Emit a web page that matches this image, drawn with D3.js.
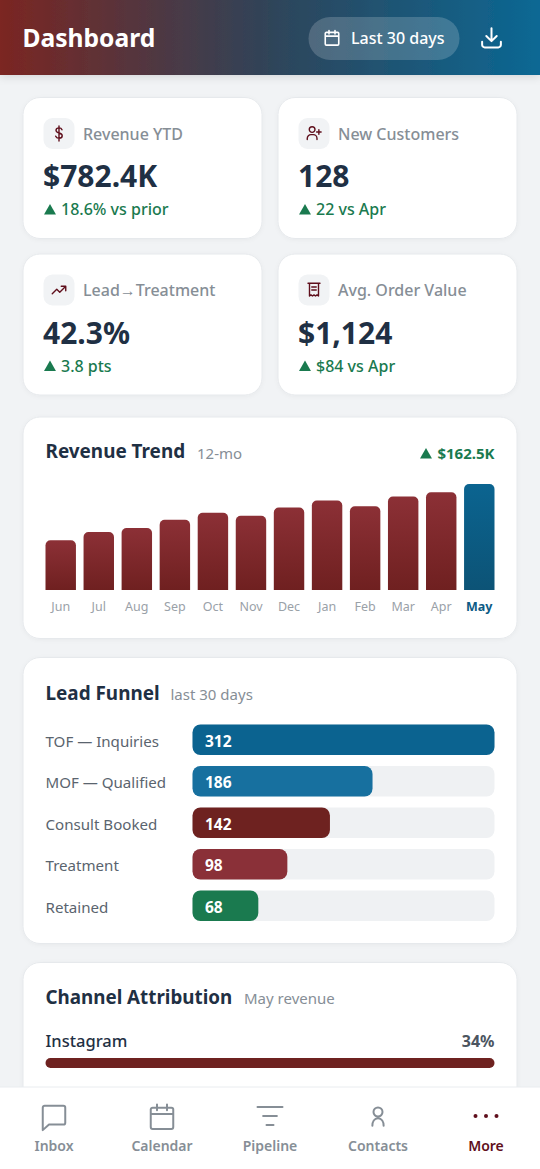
<!DOCTYPE html>
<html>
<head>
<meta charset="utf-8">
<script src="https://cdn.jsdelivr.net/npm/d3@7"></script>
<style>
  html, body { margin: 0; padding: 0; background: #f1f3f5; overflow: hidden; }
  svg { display: block; font-family: "Noto Sans", "Liberation Sans", sans-serif; }
  .domain { display: none; }
</style>
</head>
<body>
<div id="chart"></div>
<script>
// kpi cards
const kpiLabels = ["Revenue YTD", "New Customers", "Lead→Treatment", "Avg. Order Value"];
const kpiValues = ["$782.4K", "128", "42.3%", "$1,124"];
const kpiDeltas = ["18.6% vs prior", "22 vs Apr", "3.8 pts", "$84 vs Apr"];
const kpiIcons = [
  "M12 2v20M16 7c-.6-1.6-2-2.5-4-2.5-2.5 0-4 1.3-4 3.2 0 2 1.8 2.9 4 3.6 2.3.6 4.3 1.5 4.3 3.7 0 2-1.8 3.3-4.3 3.3-2.2 0-3.8-1-4.4-2.7",
  "M3 20v-1.5A5 5 0 0 1 8 13.5h3a5 5 0 0 1 5 5V20M9.5 10.5a3.8 3.8 0 1 0 0-7.6 3.8 3.8 0 0 0 0 7.6zM18.5 7v6M15.5 10h6",
  "M3 17l6-6 4 4 8-8M15 7h6v6",
  "M6 3h12v17l-2-1.5-2 1.5-2-1.5-2 1.5-2-1.5-2 1.5zM4 3h16M9 8h6M9 12h6"
];

// revenue trend
const months = ["Jun", "Jul", "Aug", "Sep", "Oct", "Nov", "Dec", "Jan", "Feb", "Mar", "Apr", "May"];
const revenue = [76.2, 88.9, 95, 107.7, 118.4, 113.8, 126.5, 137.2, 128.5, 143.2, 149.9, 162.5];

// lead funnel
const funnelStages = ["TOF — Inquiries", "MOF — Qualified", "Consult Booked", "Treatment", "Retained"];
const funnelCounts = [312, 186, 142, 98, 68];
const funnelColors = ["#0b6390", "#17709f", "#6e2220", "#8a3038", "#1a7a4f"];

// channel attribution
const channels = ["Instagram"];
const channelShares = [34];

// bottom nav
const navLabels = ["Inbox", "Calendar", "Pipeline", "Contacts", "More"];
const navIcons = [
  "M4.5 3h15A1.5 1.5 0 0 1 21 4.5v12a1.5 1.5 0 0 1-1.5 1.5H8l-5 4.5V4.5A1.5 1.5 0 0 1 4.5 3z",
  "M4.5 4.5h15A1.5 1.5 0 0 1 21 6v14a1.5 1.5 0 0 1-1.5 1.5h-15A1.5 1.5 0 0 1 3 20V6a1.5 1.5 0 0 1 1.5-1.5zM3 9.5h18M8 2v4.5M16 2v4.5",
  "M2 4h20M6.5 11.2h11M9.2 18.4h5.6",
  "M12 11.6a3.6 3.6 0 1 0 0-7.2 3.6 3.6 0 0 0 0 7.2zM7.5 19c0-3 1.5-6 4.5-6s4.5 3 4.5 6",
  ""
];

const width = 540, height = 1169;
const ink = "#1f3044", grey = "#868e96", green = "#1a7a4f", maroon = "#5f0f1c";

const svg = d3.select("#chart").append("svg")
  .attr("width", width).attr("height", height)
  .attr("viewBox", `0 0 ${width} ${height}`);

const defs = svg.append("defs");

function gradient(id, x2, y2, stops) {
  const g = defs.append("linearGradient").attr("id", id)
    .attr("x1", 0).attr("y1", 0).attr("x2", x2).attr("y2", y2);
  stops.forEach((s, i) => g.append("stop").attr("offset", i / (stops.length - 1)).attr("stop-color", s));
}
gradient("headerFill", 1, 0, ["#7b2622", "#2f4459", "#0b6894"]);
gradient("barFill", 0, 1, ["#8c3036", "#6f2020"]);
gradient("barFillLast", 0, 1, ["#0b6490", "#0c5376"]);

const shadow = defs.append("filter").attr("id", "soft")
  .attr("x", "-10%").attr("y", "-10%").attr("width", "120%").attr("height", "130%");
shadow.append("feDropShadow").attr("dx", 0).attr("dy", 1).attr("stdDeviation", 2)
  .attr("flood-color", "#000").attr("flood-opacity", 0.04);
const headShadow = defs.append("filter").attr("id", "headShadow")
  .attr("x", "-5%").attr("y", "-10%").attr("width", "110%").attr("height", "150%");
headShadow.append("feDropShadow").attr("dx", 0).attr("dy", 2).attr("stdDeviation", 4)
  .attr("flood-color", "#000").attr("flood-opacity", 0.12);

function label(parent, x, y, str, size, fill, weight, anchor) {
  return parent.append("text")
    .attr("x", x).attr("y", y)
    .attr("font-size", size).attr("fill", fill)
    .attr("font-weight", weight || 400)
    .attr("text-anchor", anchor || "start")
    .text(str);
}

function card(x, y, w, h) {
  svg.append("rect")
    .attr("x", x).attr("y", y).attr("width", w).attr("height", h)
    .attr("rx", 17).attr("fill", "#fff").attr("stroke", "#e6e9ec")
    .attr("filter", "url(#soft)");
}

function icon(parent, d, x, y, size, stroke, sw) {
  parent.append("path")
    .attr("d", d)
    .attr("transform", `translate(${x},${y}) scale(${size / 24})`)
    .attr("fill", "none").attr("stroke", stroke)
    .attr("stroke-width", sw * 24 / size)
    .attr("stroke-linecap", "round").attr("stroke-linejoin", "round");
}

const upTriangle = d3.symbol().type(d3.symbolTriangle).size(62);

function upMark(x, y) {
  svg.append("path").attr("d", upTriangle())
    .attr("transform", `translate(${x},${y})`).attr("fill", green);
}

// kpi grid
const kpiX = [23, 278], kpiY = [97.5, 254];
kpiLabels.forEach((name, i) => {
  const x = kpiX[i % 2], y = kpiY[Math.floor(i / 2)];
  card(x, y, 239, 141);
  svg.append("rect").attr("x", x + 20.5).attr("y", y + 20.5).attr("width", 31).attr("height", 31)
    .attr("rx", 9).attr("fill", "#f1f3f5");
  icon(svg, kpiIcons[i], x + 27, y + 27, 18, maroon, 1.4);
  label(svg, x + 60, y + 42, name, 16, grey, 500);
  label(svg, x + 20, y + 89.5, kpiValues[i], 30, ink, 700);
  upMark(x + 27, y + 113.5);
  label(svg, x + 38, y + 117.5, kpiDeltas[i], 16, green, 500);
});

// revenue trend card
card(23, 417, 494, 221.5);
label(svg, 45.5, 458, "Revenue Trend", 18.9, ink, 700);
label(svg, 197, 458.5, "12-mo", 15, grey);
label(svg, 494.5, 458.5, "$162.5K", 15, green, 700, "end");
upMark(426, 455);

const barTop = 484, barBase = 590;
const xRev = d3.scaleBand().domain(months).range([45.5, 494.5]).paddingInner(0.2);
const yRev = d3.scaleLinear().domain([0, d3.max(revenue)]).range([barBase, barTop]);

function topRounded(x, y, w, h, r) {
  const p = d3.path();
  p.moveTo(x, y + h);
  p.lineTo(x, y + r);
  p.arcTo(x, y, x + r, y, r);
  p.lineTo(x + w - r, y);
  p.arcTo(x + w, y, x + w, y + r, r);
  p.lineTo(x + w, y + h);
  p.closePath();
  return p.toString();
}

svg.append("g").selectAll("path")
  .data(revenue)
  .join("path")
    .attr("d", (d, i) => topRounded(xRev(months[i]), yRev(d), xRev.bandwidth(), barBase - yRev(d), 5))
    .attr("fill", (d, i) => i === months.length - 1 ? "url(#barFillLast)" : "url(#barFill)");

const revAxis = svg.append("g")
  .attr("transform", `translate(0,${barBase})`)
  .call(d3.axisBottom(xRev).tickSize(0).tickPadding(12.5))
  .attr("font-family", null);
revAxis.selectAll("text")
  .attr("font-size", 12.5)
  .attr("fill", d => d === "May" ? "#0c5b85" : "#9aa1a8")
  .attr("font-weight", d => d === "May" ? 700 : 400);

// lead funnel card
card(23, 657.5, 494, 286);
label(svg, 45.5, 700, "Lead Funnel", 18.9, ink, 700);
label(svg, 170.5, 699.5, "last 30 days", 15, grey);

const xFun = d3.scaleLinear().domain([0, d3.max(funnelCounts)]).range([0, 302]);
const yFun = d3.scaleBand().domain(funnelStages).range([724.5, 921]).paddingInner(0.265);

const funRows = svg.append("g").selectAll("g")
  .data(funnelCounts)
  .join("g")
    .attr("transform", (d, i) => `translate(192.5,${yFun(funnelStages[i])})`);
funRows.append("rect")
  .attr("width", 302).attr("height", yFun.bandwidth())
  .attr("rx", 8).attr("fill", "#eff1f3");
funRows.append("rect")
  .attr("width", d => xFun(d)).attr("height", yFun.bandwidth())
  .attr("rx", 8).attr("fill", (d, i) => funnelColors[i]);
funRows.append("text")
  .attr("x", 12.5).attr("y", yFun.bandwidth() / 2 + 7)
  .attr("font-size", 15.5).attr("font-weight", 700).attr("fill", "#fff")
  .text(d => d);
funRows.append("text")
  .attr("x", -147).attr("y", yFun.bandwidth() / 2 + 7)
  .attr("font-size", 15.1).attr("fill", "#5a646e")
  .text((d, i) => funnelStages[i]);

// channel attribution card, runs under the nav bar
card(23, 962.5, 494, 220);
label(svg, 45.5, 1004, "Channel Attribution", 18.8, ink, 700);
label(svg, 244, 1004, "May revenue", 15, grey);

const xChan = d3.scaleLinear().domain([0, d3.max(channelShares)]).range([0, 449]);
channels.forEach((name, i) => {
  label(svg, 45.5, 1047, name, 16.5, ink, 500);
  label(svg, 494.5, 1047, channelShares[i] + "%", 16, "#4c5560", 700, "end");
  svg.append("rect").attr("x", 45.5).attr("y", 1058).attr("height", 10)
    .attr("width", xChan(channelShares[i])).attr("rx", 5).attr("fill", "#6e2220");
});

// header
svg.append("rect").attr("width", width).attr("height", 75)
  .attr("fill", "url(#headerFill)").attr("filter", "url(#headShadow)");
label(svg, 22.5, 47, "Dashboard", 24.6, "#fff", 700);
svg.append("rect").attr("x", 308.5).attr("y", 17).attr("width", 151).attr("height", 43)
  .attr("rx", 21.5).attr("fill", "#fff").attr("fill-opacity", 0.18);
icon(svg, navIcons[1], 323, 29, 18, "#fff", 1.6);
label(svg, 351, 44, "Last 30 days", 16, "#fff", 500);
icon(svg, "M12 3v12M7 10.5l5 5 5-5M3 16v3a2.5 2.5 0 0 0 2.5 2.5h13A2.5 2.5 0 0 0 21 19v-3", 479, 25, 25, "#fff", 2);

// bottom nav
svg.append("rect").attr("y", 1087).attr("width", width).attr("height", 82)
  .attr("fill", "#fff");
svg.append("line").attr("x1", 0).attr("x2", width).attr("y1", 1087).attr("y2", 1087)
  .attr("stroke", "#e9ecef");

const xNav = d3.scalePoint().domain(navLabels).range([54, 486]);
navLabels.forEach((name, i) => {
  const active = name === "More";
  const cx = xNav(name);
  if (active) {
    svg.append("g").selectAll("circle")
      .data([-10.5, 0, 10.5])
      .join("circle")
        .attr("cx", d => cx + d).attr("cy", 1116).attr("r", 2).attr("fill", maroon);
  } else {
    icon(svg, navIcons[i], cx - 15, 1102, 30, "#868e96", 2);
  }
  label(svg, cx, 1151, name, 14, active ? maroon : "#868e96", 600, "middle");
});
</script>
</body>
</html>
